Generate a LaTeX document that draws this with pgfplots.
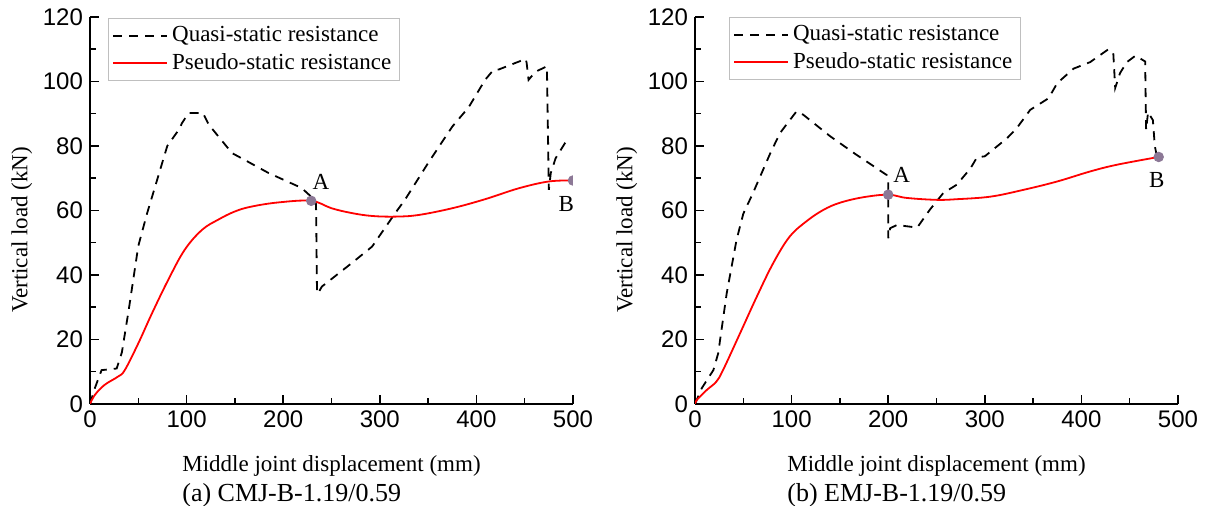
\documentclass[border=0pt]{standalone}
\usepackage{fontspec}
\setmainfont{Liberation Serif}
\newfontfamily\arial{Liberation Sans}
\usepackage{pgfplots}
\pgfplotsset{compat=1.18}

\definecolor{ptcol}{RGB}{140,120,150}

% quasi-static (dashed) and pseudo-static (red) curves
\pgfplotstableread{
x y
0 0
5 4.9
12 10.5
27.6 11
33 16
40 29
50 49
59 59
69 69
80 80
93 85.5
95 87
102 90.2
117 90.2
123 86.6
147 77.8
160 75.7
185 71.6
219 67
230 64
234 62
235 34.3
236 34.3
240 36.4
271 43.7
292 48.8
316 59.2
326 63.3
350 74.7
375 86
392 92
409 100.5
418 103.7
423 103.7
451 107
452 105.8
454 100.5
461 103
473 104.7
475 66.4
477 71.6
482 76.2
494 82
}\quasiA

\pgfplotstableread{
x y
0 0
5 2.8
15 5.9
29 8.5
36 10.5
50 18.8
64 28
81 38.5
98 47.8
116 54
133 57.2
150 59.7
167 61.2
195 62.5
229 63
250 60.7
271 59.2
292 58.3
316 58.1
340 58.6
375 60.7
409 63.5
444 66.9
475 69
500 69.3
}\pseudoA

\pgfplotstableread{
x y
0 0
7 4.9
19 10.5
24 15.7
32.8 34.3
43 50.9
50 59
60 65.4
78 77.8
88 84
93 86
105 90.7
112 89.7
140 83
167 77.3
198.5 71
200 69
200 51.4
202 54.5
209 55.5
230 54.7
243 60.2
257 65.4
271 68
285 73
292 76.5
300 76.8
323 82.4
333 85.5
347 91.2
366 94.8
375 99.5
392 104
409 106
428 110
433 108.8
435 98
440 102.6
447 106
456 108
466 106.2
467 85
469 90.5
474 88
476 80
478 77
}\quasiB

\pgfplotstableread{
x y
0 0
1.7 1.2
12 4.3
22 6.9
29 10.5
46.6 21.9
64 33.3
81 43.7
98 51.9
116 56.8
133 60.2
150 62.4
174 64.1
200 64.9
219 63.9
250 63.3
271 63.5
306 64.3
340 66.4
375 69
409 72.1
437 74.2
480 76.6
}\pseudoB

\pgfplotsset{
  jointstyle/.style={
    scale only axis, width=241.5pt, height=193.5pt,
    xmin=0, xmax=500, ymin=0, ymax=120,
    xtick={0,100,...,500}, ytick={0,20,...,120},
    minor x tick num=1, minor y tick num=1,
    axis x line*=bottom, axis y line*=left,
    tick align=inside,
    major tick length=4.5pt, minor tick length=3pt,
    axis line style={line width=0.75pt},
    every tick/.style={black, line width=0.75pt},
    ticklabel style={font=\arial\fontsize{12}{14}\selectfont},
    /pgf/number format/assume math mode=true,
    label style={font=\fontsize{11.5}{14}\selectfont},
    ylabel={Vertical load (kN)},
    ylabel style={at={(axis description cs:-0.141,0.45)}, anchor=center},
    xlabel style={at={(axis description cs:0.5,-0.115)}, anchor=north, align=left},
    legend style={font=\fontsize{11.5}{14}\selectfont, draw=black!25,
      line width=0.5pt, inner sep=2pt, row sep=0.5pt,
      legend cell align=left},
    legend image code/.code={\draw[#1] (0pt,0pt) -- (21pt,0pt);
      \path (0pt,0pt) -- (27pt,0pt);},
    clip marker paths=true,
  },
  quasi/.style={black, line width=0.9pt, dash pattern=on 4.5pt off 3.5pt},
  pseudo/.style={red, line width=0.9pt, smooth, tension=0.6},
  pt/.style={only marks, mark=*, mark size=2.4pt, mark options={fill=ptcol, draw=ptcol}, forget plot},
}

\begin{document}
\begin{tikzpicture}
\useasboundingbox (-45pt,-51pt) rectangle (559.5pt,202pt);

\begin{axis}[jointstyle,
  at={(0pt,0pt)}, anchor=origin,
  xlabel={Middle joint displacement (mm)\\[1pt]{\fontsize{13}{15}\selectfont (a) CMJ-B-1.19/0.59}},
  legend style={at={(axis description cs:0.037,0.997)}, anchor=north west},
]
\addplot[quasi] table {\quasiA};
\addlegendentry{Quasi-static resistance}
\addplot[pseudo] table {\pseudoA};
\addlegendentry{Pseudo-static resistance}
\addplot[pt] coordinates {(229,63) (500,69.3)};
\node[font=\fontsize{11.5}{14}\selectfont] at (axis cs:239,69) {A};
\node[font=\fontsize{11.5}{14}\selectfont] at (axis cs:493,62) {B};
\end{axis}

\begin{axis}[jointstyle,
  at={(302.5pt,0pt)}, anchor=origin,
  xlabel={Middle joint displacement (mm)\\[1pt]{\fontsize{13}{15}\selectfont (b) EMJ-B-1.19/0.59}},
  legend style={at={(axis description cs:0.07,1.0)}, anchor=north west},
]
\addplot[quasi] table {\quasiB};
\addlegendentry{Quasi-static resistance}
\addplot[pseudo] table {\pseudoB};
\addlegendentry{Pseudo-static resistance}
\addplot[pt] coordinates {(200,64.9) (480,76.6)};
\node[font=\fontsize{11.5}{14}\selectfont] at (axis cs:214,71) {A};
\node[font=\fontsize{11.5}{14}\selectfont] at (axis cs:478,69.5) {B};
\end{axis}
\end{tikzpicture}
\end{document}
